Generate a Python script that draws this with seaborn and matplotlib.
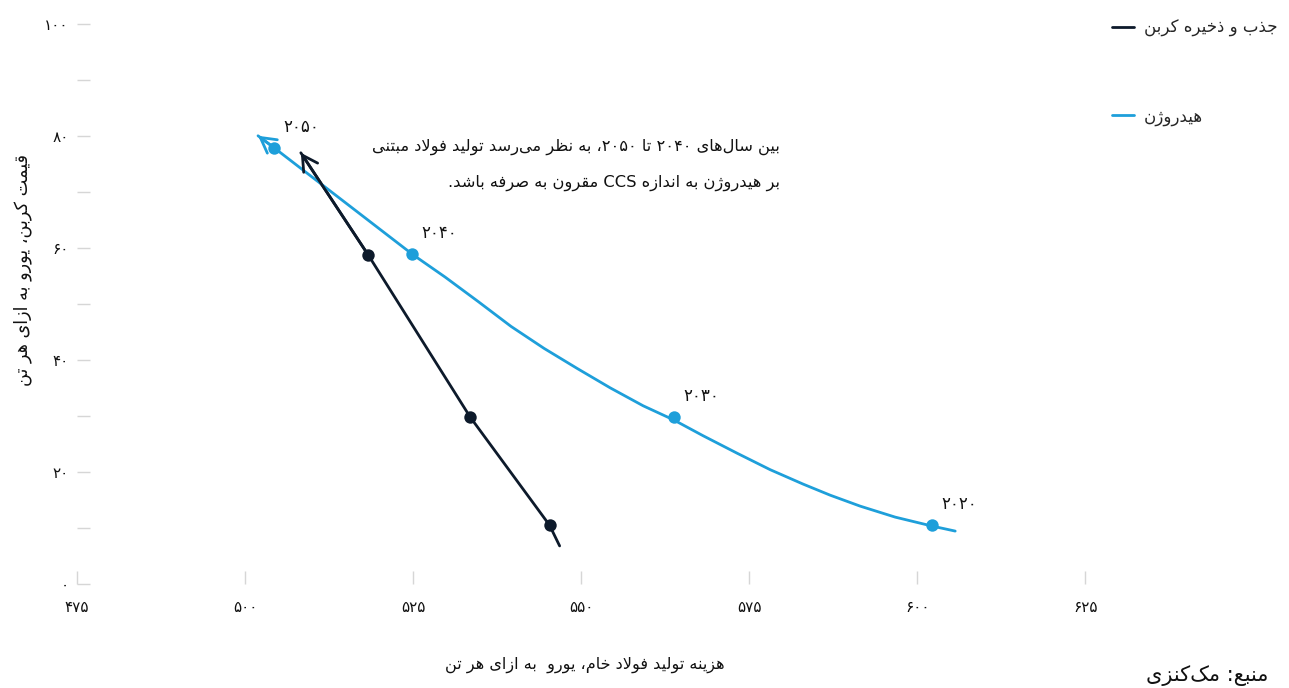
import re
import matplotlib
matplotlib.use("Agg")
import matplotlib.pyplot as plt
import pandas as pd
import seaborn as sns

# ---------------- data ----------------
years = [2050, 2040, 2030, 2020]

# hydrogen markers
h2_cost = [504.3, 524.85, 563.8, 602.2]
h2_price = [77.9, 59.0, 29.8, 10.5]
# hydrogen curve trace (arrow tip -> tail)
h2_line_cost = [501.93, 504.32, 524.96, 529.76, 534.67, 539.58, 544.49, 549.40, 554.32,
                559.23, 563.74, 568.15, 573.21, 578.13, 583.04, 587.05, 591.52, 596.73,
                602.23, 605.65]
h2_line_price = [80.04, 77.90, 58.82, 54.81, 50.45, 45.99, 42.07, 38.50, 35.03,
                 31.82, 29.32, 26.47, 23.35, 20.41, 17.83, 15.86, 13.90, 11.94,
                 10.34, 9.45]

# CCS markers (2040, 2030, 2020)
ccs_cost = [518.3, 533.5, 545.3]
ccs_price = [58.8, 29.8, 10.5]
# CCS line trace (arrow tip -> tail)
ccs_line_cost = [508.3, 518.3, 533.5, 545.3, 546.8]
ccs_line_price = [77.0, 58.8, 29.8, 10.5, 6.8]

x_ticks = [475, 500, 525, 550, 575, 600, 625]
y_major = [0, 20, 40, 60, 80, 100]
y_minor = [10, 30, 50, 70, 90]

label_ccs = "جذب و ذخیره کربن"
label_h2 = "هیدروژن"
note_line1 = "بین سال‌های ۲۰۴۰ تا ۲۰۵۰، به نظر می‌رسد تولید فولاد مبتنی"
note_line2 = "بر هیدروژن به اندازه CCS مقرون به صرفه باشد."
x_title = "هزینه تولید فولاد خام، یورو  به ازای هر تن"
y_title = "قیمت کربن، یورو به ازای هر تن"
source = "منبع: مک‌کنزی"

# ---------------- minimal Persian shaping + bidi ----------------
_AR = {}
for cp, base in [(0x0628, 0xFE8F), (0x062A, 0xFE95), (0x062B, 0xFE99), (0x062C, 0xFE9D),
                 (0x062D, 0xFEA1), (0x062E, 0xFEA5), (0x0633, 0xFEB1), (0x0634, 0xFEB5),
                 (0x0635, 0xFEB9), (0x0636, 0xFEBD), (0x0637, 0xFEC1), (0x0638, 0xFEC5),
                 (0x0639, 0xFEC9), (0x063A, 0xFECD), (0x0641, 0xFED1), (0x0642, 0xFED5),
                 (0x0643, 0xFED9), (0x0644, 0xFEDD), (0x0645, 0xFEE1), (0x0646, 0xFEE5),
                 (0x0647, 0xFEE9), (0x064A, 0xFEF1), (0x067E, 0xFB56), (0x0686, 0xFB7A),
                 (0x06A9, 0xFB8E), (0x06AF, 0xFB92), (0x06CC, 0xFBFC)]:
    _AR[chr(cp)] = tuple(chr(base + k) for k in range(4))
for cp, base in [(0x0622, 0xFE81), (0x0627, 0xFE8D), (0x062F, 0xFEA9), (0x0630, 0xFEAB),
                 (0x0631, 0xFEAD), (0x0632, 0xFEAF), (0x0648, 0xFEED), (0x0698, 0xFB8A)]:
    _AR[chr(cp)] = (chr(base), chr(base + 1))
_LAMALEF = {"\u0627": ("\uFEFB", "\uFEFC"), "\u0622": ("\uFEF5", "\uFEF6")}


def _shape(s):
    out = []
    i = 0
    n = len(s)
    while i < n:
        c = s[i]
        if c not in _AR:
            if c != "\u200c":
                out.append(c)
            i += 1
            continue
        prev = s[i - 1] if i > 0 else None
        jp = prev in _AR and len(_AR[prev]) == 4
        nxt = s[i + 1] if i + 1 < n else None
        if c == "\u0644" and nxt in _LAMALEF:
            out.append(_LAMALEF[nxt][1 if jp else 0])
            i += 2
            continue
        jn = len(_AR[c]) == 4 and nxt in _AR
        f = _AR[c]
        if jp and jn:
            out.append(f[3])
        elif jp:
            out.append(f[1])
        elif jn:
            out.append(f[2])
        else:
            out.append(f[0])
        i += 1
    return "".join(out)


def fa(s):
    s = _shape(s)
    parts = re.split(r"([A-Za-z0-9\u06F0-\u06F9]+)", s)
    vis = []
    for p in reversed(parts):
        if re.fullmatch(r"[A-Za-z0-9\u06F0-\u06F9]+", p or "x"):
            vis.append(p)
        else:
            vis.append(p[::-1])
    return "".join(vis)


_DIG = str.maketrans("0123456789", "۰۱۲۳۴۵۶۷۸۹")


def fadig(v):
    return str(v).translate(_DIG)


# ---------------- plot ----------------
sns.set_theme(style="white")
plt.rcParams["font.family"] = ["DejaVu Sans"]

BLUE = "#1e9fda"
NAVY = "#0d1a2b"
TXT = "#111111"

fig = plt.figure(figsize=(12.89, 6.88), dpi=100)
ax = fig.add_axes([77 / 1289, 1 - 584 / 688, 1015 / 1289, 560 / 688])

df_ccs = pd.DataFrame({"cost": ccs_line_cost, "price": ccs_line_price})
df_h2 = pd.DataFrame({"cost": h2_line_cost, "price": h2_line_price})

sns.lineplot(data=df_ccs, x="cost", y="price", ax=ax, color=NAVY, lw=2,
             sort=False, estimator=None, label=fa(label_ccs))
sns.lineplot(data=df_h2, x="cost", y="price", ax=ax, color=BLUE, lw=2,
             sort=False, estimator=None, label=fa(label_h2))
sns.scatterplot(x=ccs_cost, y=ccs_price, ax=ax, color=NAVY, s=80, linewidth=0,
                zorder=5, legend=False)
sns.scatterplot(x=h2_cost, y=h2_price, ax=ax, color=BLUE, s=80, linewidth=0,
                zorder=5, legend=False)

# open arrow heads at the upper-left ends
for xs, ys, col in [(ccs_line_cost, ccs_line_price, NAVY), (h2_line_cost, h2_line_price, BLUE)]:
    ax.annotate("", xy=(xs[0], ys[0]), xytext=(xs[1], ys[1]),
                arrowprops=dict(arrowstyle="->,head_length=0.9,head_width=0.5",
                                color=col, lw=2, shrinkA=0, shrinkB=0),
                annotation_clip=False)

# year labels
for xv, yv, yr in zip(h2_cost, h2_price, years):
    ax.annotate(fadig(yr), xy=(xv, yv), xytext=(27, 21), textcoords="offset pixels",
                ha="center", va="center", fontsize=12, color=TXT)

# note text
ax.text(579.6, 78.1, fa(note_line1), ha="right", va="center", fontsize=11.7, color=TXT)
ax.text(579.6, 71.7, fa(note_line2), ha="right", va="center", fontsize=11.7, color=TXT)

ax.set_xlim(475, 626)
ax.set_ylim(0, 100)
ax.set_xticks(x_ticks)
ax.set_xticklabels([fadig(v) for v in x_ticks])
ax.set_yticks(y_major)
ax.set_yticklabels([fadig(v) for v in y_major])
ax.set_yticks(y_minor, minor=True)
for s in ax.spines.values():
    s.set_visible(False)
ax.tick_params(axis="both", which="both", direction="in", length=9.5, width=1,
               color="#d6d6d6", labelsize=11, labelcolor=TXT,
               bottom=True, left=True, top=False, right=False)
ax.tick_params(axis="x", pad=11.5)
ax.tick_params(axis="y", pad=6)

ax.set_xlabel(fa(x_title), fontsize=11.6, color=TXT)
ax.xaxis.set_label_coords(0.5, -0.13)
ax.set_ylabel(fa(y_title), fontsize=12.7, color=TXT)
ax.yaxis.set_label_coords(-0.044, 0.561)

leg = ax.legend(loc="upper left", bbox_to_anchor=(1112 / 1289, 1 - 19 / 688),
                bbox_transform=fig.transFigure, frameon=False, fontsize=12,
                labelspacing=4.2, handlelength=1.3, handletextpad=0.6,
                borderaxespad=0, borderpad=0)

fig.text(1268 / 1289, 1 - 686 / 688, fa(source), ha="right", va="bottom",
         fontsize=15, color=TXT)

fig.savefig("out.png", dpi=100)
